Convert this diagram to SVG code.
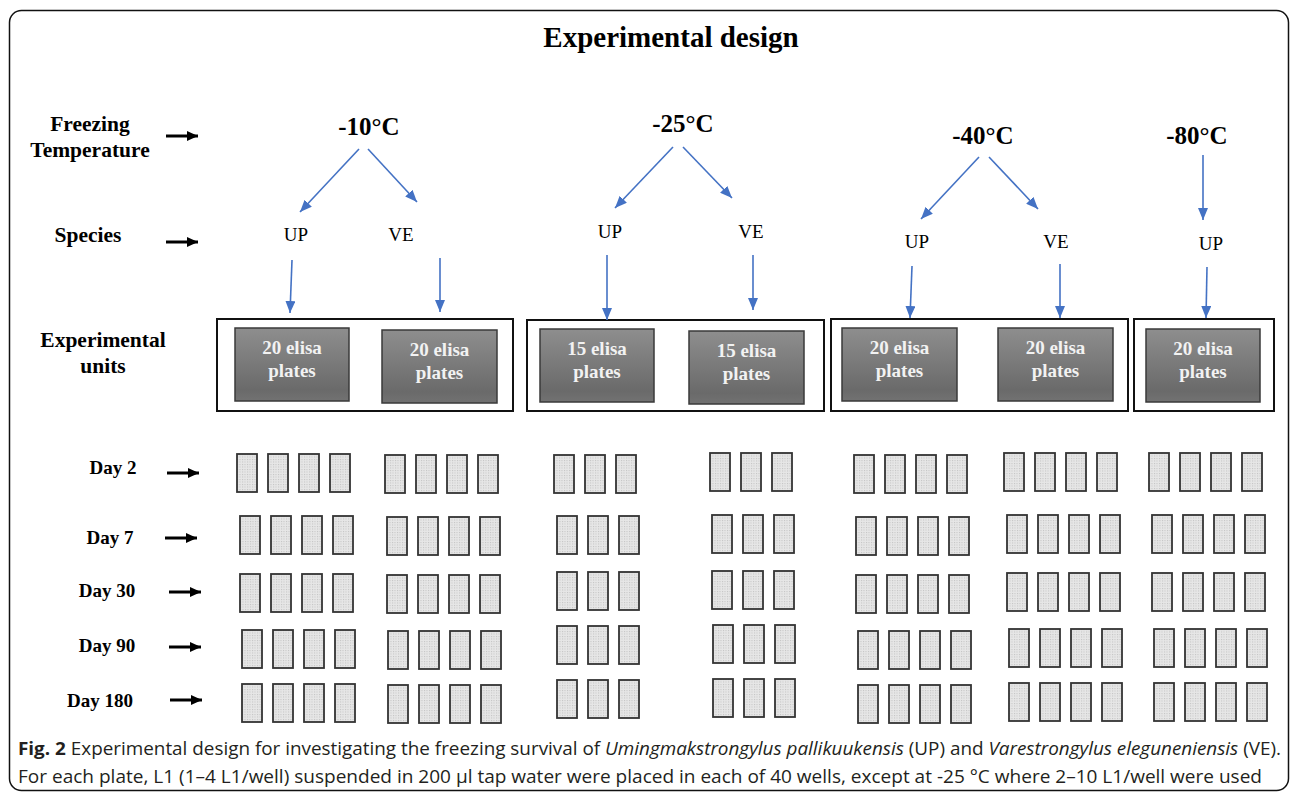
<svg xmlns="http://www.w3.org/2000/svg" xmlns:xlink="http://www.w3.org/1999/xlink" width="1290" height="795" viewBox="0 0 1290 795">
  <style>
    .serif { font-family: "Liberation Serif", "Times New Roman", serif; fill: #000; }
    .title { font-size: 29px; font-weight: bold; text-anchor: middle; }
    .rowlabel { font-size: 21.5px; font-weight: bold; text-anchor: middle; }
    .day { font-size: 19px; font-weight: bold; text-anchor: middle; }
    .temp { font-size: 25px; font-weight: bold; text-anchor: middle; }
    .species { font-size: 19px; text-anchor: middle; }
    .unit-text { font-size: 19px; font-weight: bold; text-anchor: middle; fill: #f2f2f2; }
    .container { fill: #fff; stroke: #111; stroke-width: 2; }
    .unit { fill: url(#unitGrad); stroke: #3a3a3a; stroke-width: 1.5; }
    .plate { fill: url(#wells); stroke: #333; stroke-width: 1.8; }
    .blue { stroke: #4472c4; stroke-width: 1.6; fill: none; marker-end: url(#blueHead); }
    .black { stroke: #000; stroke-width: 3; fill: none; marker-end: url(#blackHead); }
    .caption { font-family: "Open Sans", "Noto Sans", "Liberation Sans", sans-serif; font-size: 18.5px; fill: #231f20; }
  </style>
  <defs>
    <linearGradient id="unitGrad" x1="0" y1="0" x2="0" y2="1">
      <stop offset="0" stop-color="#8e8e8e"/>
      <stop offset="0.85" stop-color="#6a6a6a"/>
      <stop offset="1" stop-color="#727272"/>
    </linearGradient>
    <pattern id="wells" width="2.5" height="2.5" patternUnits="userSpaceOnUse">
      <rect width="2.5" height="2.5" fill="#e6e6e6"/>
      <rect width="1" height="1" fill="#c2c2c2"/>
    </pattern>
    <marker id="blueHead" viewBox="0 0 12 10" refX="12" refY="5" markerWidth="12" markerHeight="10" markerUnits="userSpaceOnUse" orient="auto">
      <path d="M0,0 L12,5 L0,10 Z" fill="#4472c4"/>
    </marker>
    <marker id="blackHead" viewBox="0 0 11 10" refX="11" refY="5" markerWidth="11" markerHeight="10" markerUnits="userSpaceOnUse" orient="auto">
      <path d="M0,0 L11,5 L0,10 Z" fill="#000"/>
    </marker>
    <rect id="plate" class="plate" width="20" height="38"/>
    <g id="set4">
      <use href="#plate" x="0"/>
      <use href="#plate" x="31"/>
      <use href="#plate" x="62"/>
      <use href="#plate" x="93"/>
    </g>
    <g id="set3">
      <use href="#plate" x="0"/>
      <use href="#plate" x="31"/>
      <use href="#plate" x="62"/>
    </g>
  </defs>

  <rect width="1290" height="795" fill="#fff"/>
  <!-- figure frame -->
  <rect x="9.5" y="10.5" width="1279" height="780" rx="12" fill="none" stroke="#111" stroke-width="1.5"/>

  <text class="serif title" x="671" y="47">Experimental design</text>

  <!-- row labels -->
  <g id="label-temperature">
    <text class="serif rowlabel" x="90" y="131">Freezing</text>
    <text class="serif rowlabel" x="90" y="157">Temperature</text>
  </g>
  <g id="label-species"><text class="serif rowlabel" x="88" y="242">Species</text></g>
  <g id="label-units">
    <text class="serif rowlabel" x="103" y="347">Experimental</text>
    <text class="serif rowlabel" x="103" y="373">units</text>
  </g>
  <g id="label-days">
    <text class="serif day" x="113" y="474">Day 2</text>
    <text class="serif day" x="110" y="544">Day 7</text>
    <text class="serif day" x="107" y="597">Day 30</text>
    <text class="serif day" x="107" y="652">Day 90</text>
    <text class="serif day" x="100" y="707">Day 180</text>
  </g>

  <!-- temperatures -->
  <g id="temp-10"><text class="serif temp" x="369" y="135">-10°C</text></g>
  <g id="temp-25"><text class="serif temp" x="683" y="132">-25°C</text></g>
  <g id="temp-40"><text class="serif temp" x="983" y="144">-40°C</text></g>
  <g id="temp-80"><text class="serif temp" x="1197" y="144">-80°C</text></g>

  <!-- species -->
  <g id="sp-10-up"><text class="serif species" x="296" y="241">UP</text></g>
  <g id="sp-10-ve"><text class="serif species" x="401" y="241">VE</text></g>
  <g id="sp-25-up"><text class="serif species" x="610" y="238">UP</text></g>
  <g id="sp-25-ve"><text class="serif species" x="751" y="238">VE</text></g>
  <g id="sp-40-up"><text class="serif species" x="917" y="248">UP</text></g>
  <g id="sp-40-ve"><text class="serif species" x="1056" y="248">VE</text></g>
  <g id="sp-80-up"><text class="serif species" x="1211" y="250">UP</text></g>

  <!-- experimental unit containers -->
  <g id="units-10">
    <rect class="container" x="217" y="319" width="296" height="92"/>
    <rect class="unit" x="235" y="328" width="114" height="73"/>
    <text class="serif unit-text" x="292" y="354">20 elisa</text>
    <text class="serif unit-text" x="292" y="377">plates</text>
    <rect class="unit" x="382" y="330" width="115" height="73"/>
    <text class="serif unit-text" x="439.5" y="356">20 elisa</text>
    <text class="serif unit-text" x="439.5" y="379">plates</text>
  </g>
  <g id="units-25">
    <rect class="container" x="527" y="320" width="297" height="91"/>
    <rect class="unit" x="540" y="329" width="114" height="73"/>
    <text class="serif unit-text" x="597" y="355">15 elisa</text>
    <text class="serif unit-text" x="597" y="378">plates</text>
    <rect class="unit" x="689" y="331" width="115" height="73"/>
    <text class="serif unit-text" x="746.5" y="357">15 elisa</text>
    <text class="serif unit-text" x="746.5" y="380">plates</text>
  </g>
  <g id="units-40">
    <rect class="container" x="831" y="319" width="297" height="92"/>
    <rect class="unit" x="842" y="328" width="115" height="73"/>
    <text class="serif unit-text" x="899.5" y="354">20 elisa</text>
    <text class="serif unit-text" x="899.5" y="377">plates</text>
    <rect class="unit" x="998" y="328" width="115" height="73"/>
    <text class="serif unit-text" x="1055.5" y="354">20 elisa</text>
    <text class="serif unit-text" x="1055.5" y="377">plates</text>
  </g>
  <g id="units-80">
    <rect class="container" x="1134" y="319" width="140" height="92"/>
    <rect class="unit" x="1146" y="329" width="114" height="73"/>
    <text class="serif unit-text" x="1203" y="355">20 elisa</text>
    <text class="serif unit-text" x="1203" y="378">plates</text>
  </g>

  <!-- plates sampled per day -->
  <g id="plates-day2">
    <use href="#set4" x="237" y="454"/>
    <use href="#set4" x="385" y="455"/>
    <use href="#set3" x="554" y="455"/>
    <use href="#set3" x="710" y="453"/>
    <use href="#set4" x="854" y="455"/>
    <use href="#set4" x="1004" y="453"/>
    <use href="#set4" x="1149" y="453"/>
  </g>
  <g id="plates-day7">
    <use href="#set4" x="240" y="516"/>
    <use href="#set4" x="387" y="517"/>
    <use href="#set3" x="557" y="516"/>
    <use href="#set3" x="712" y="515"/>
    <use href="#set4" x="856" y="517"/>
    <use href="#set4" x="1007" y="515"/>
    <use href="#set4" x="1152" y="515"/>
  </g>
  <g id="plates-day30">
    <use href="#set4" x="240" y="574"/>
    <use href="#set4" x="387" y="575"/>
    <use href="#set3" x="557" y="572"/>
    <use href="#set3" x="712" y="571"/>
    <use href="#set4" x="856" y="575"/>
    <use href="#set4" x="1007" y="573"/>
    <use href="#set4" x="1152" y="573"/>
  </g>
  <g id="plates-day90">
    <use href="#set4" x="242" y="630"/>
    <use href="#set4" x="388" y="631"/>
    <use href="#set3" x="557" y="626"/>
    <use href="#set3" x="713" y="625"/>
    <use href="#set4" x="858" y="631"/>
    <use href="#set4" x="1009" y="629"/>
    <use href="#set4" x="1154" y="629"/>
  </g>
  <g id="plates-day180">
    <use href="#set4" x="242" y="684"/>
    <use href="#set4" x="388" y="685"/>
    <use href="#set3" x="557" y="680"/>
    <use href="#set3" x="713" y="679"/>
    <use href="#set4" x="858" y="685"/>
    <use href="#set4" x="1009" y="683"/>
    <use href="#set4" x="1154" y="683"/>
  </g>

  <!-- connectors -->
  <g id="connectors">
    <line class="black" x1="166" y1="136" x2="198" y2="136"/>
    <line class="black" x1="166" y1="242" x2="198" y2="242"/>
    <line class="black" x1="167" y1="473" x2="199" y2="473"/>
    <line class="black" x1="165" y1="538" x2="197" y2="538"/>
    <line class="black" x1="169" y1="592" x2="201" y2="592"/>
    <line class="black" x1="169" y1="647" x2="201" y2="647"/>
    <line class="black" x1="170" y1="700" x2="202" y2="700"/>

    <line class="blue" x1="359" y1="149" x2="300" y2="212"/>
    <line class="blue" x1="368" y1="149" x2="417" y2="202"/>
    <line class="blue" x1="292" y1="260" x2="290" y2="313"/>
    <line class="blue" x1="440" y1="258" x2="440" y2="312"/>

    <line class="blue" x1="673" y1="147" x2="615" y2="208"/>
    <line class="blue" x1="683" y1="147" x2="732" y2="198"/>
    <line class="blue" x1="607" y1="255" x2="607" y2="320"/>
    <line class="blue" x1="753" y1="255" x2="753" y2="310"/>

    <line class="blue" x1="979" y1="157" x2="921" y2="219"/>
    <line class="blue" x1="989" y1="157" x2="1038" y2="209"/>
    <line class="blue" x1="912" y1="266" x2="910" y2="318"/>
    <line class="blue" x1="1060" y1="264" x2="1060" y2="318"/>

    <line class="blue" x1="1203" y1="155" x2="1203" y2="220"/>
    <line class="blue" x1="1207" y1="267" x2="1206" y2="318"/>
  </g>

  <!-- caption -->
  <text class="caption" x="18" y="755" textLength="1263" lengthAdjust="spacingAndGlyphs"><tspan font-weight="bold">Fig. 2</tspan> Experimental design for investigating the freezing survival of <tspan font-style="italic">Umingmakstrongylus pallikuukensis</tspan> (UP) and <tspan font-style="italic">Varestrongylus eleguneniensis</tspan> (VE).</text>
  <text class="caption" x="18" y="783" textLength="1244" lengthAdjust="spacingAndGlyphs">For each plate, L1 (1–4 L1/well) suspended in 200 µl tap water were placed in each of 40 wells, except at -25 °C where 2–10 L1/well were used</text>
</svg>
